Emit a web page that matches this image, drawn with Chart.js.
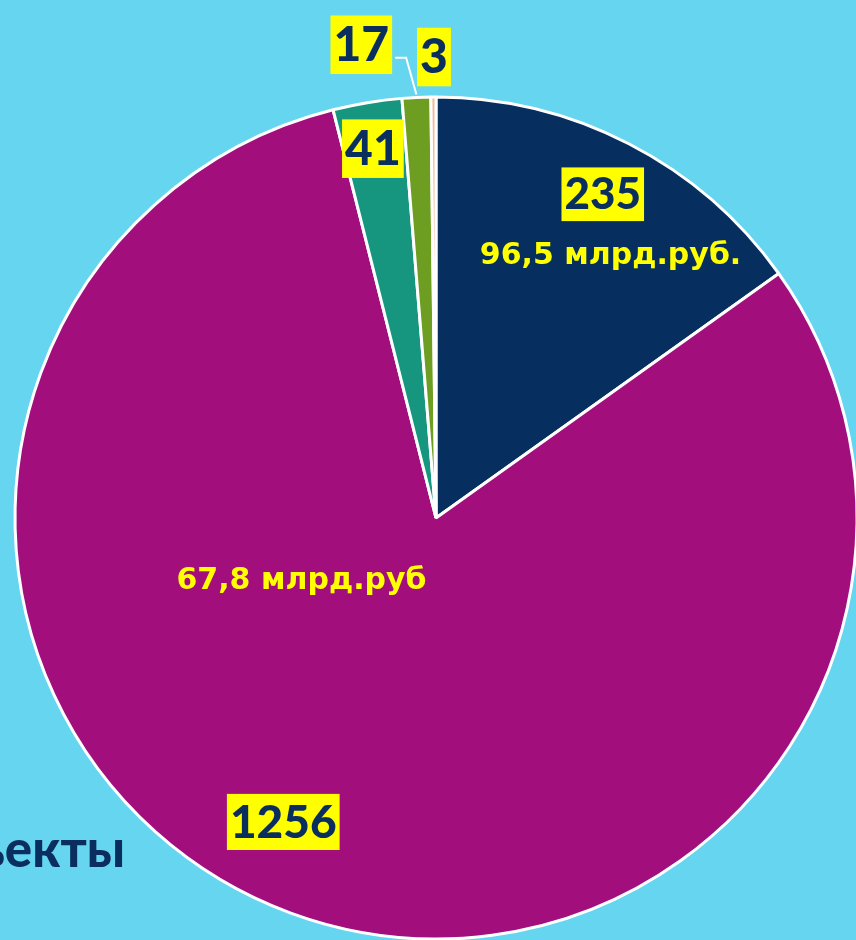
<!DOCTYPE html>
<html>
<head>
<meta charset="utf-8">
<script src="https://cdn.jsdelivr.net/npm/chart.js@4/dist/chart.umd.min.js"></script>
<style>
  html, body { margin:0; padding:0; width:856px; height:940px; overflow:hidden; background:#66d5ef; }
  #wrap { position:absolute; left:0; top:0; width:872px; height:1036px; }
  #side { position:absolute; right:731px; top:822px; font-family:Lato, "DejaVu Sans", sans-serif; font-weight:900; font-size:51px; color:#0a2f5e; white-space:nowrap; line-height:1; }
</style>
</head>
<body>
<div id="side">Объекты</div>
<div id="wrap"><canvas id="c" width="872" height="1036"></canvas></div>
<script>
// ---- data ----
const categories = ["A", "B", "C", "D", "E"];
const counts = [235, 1256, 41, 17, 3];
const amounts = ["96,5 млрд.руб.", "67,8 млрд.руб", "", "", ""];
const sliceColors = ["#062f5f", "#a30e7d", "#16967e", "#6d9e22", "#f4b89a"];

// label layout: [slice index, text, angle offset from slice middle (deg), radius fraction, style]
const labelLayout = [
  { i:0, text:String(counts[0]), da:0, rf:0.865, size:44, box:true },
  { i:0, text:amounts[0], da:6.3, rf:0.75, size:30, box:false, font:'"DejaVu Sans", sans-serif', weight:'bold' },
  { i:1, text:String(counts[1]), da:6.5, rf:0.808, size:46, box:true },
  { i:1, text:amounts[1], da:45, rf:0.352, size:30, box:false, font:'"DejaVu Sans", sans-serif', weight:'bold' },
  { i:2, text:String(counts[2]), da:-0.3, rf:0.89, size:48, box:true },
  { i:3, text:String(counts[3]), da:-6.3, rf:1.138, size:48, box:true, leader:true },
  { i:4, text:String(counts[4]), da:0.1, rf:1.095, size:48, box:true }
];

const FONT = 'Lato, "DejaVu Sans", sans-serif';

const labelPlugin = {
  id: 'labels',
  afterDatasetsDraw(chart) {
    const ctx = chart.ctx;
    const meta = chart.getDatasetMeta(0);
    ctx.save();
    labelLayout.forEach(L => {
      const arc = meta.data[L.i];
      const mid = (arc.startAngle + arc.endAngle) / 2;
      const a = mid + L.da * Math.PI / 180;
      const r = arc.outerRadius * L.rf;
      const x = arc.x + Math.cos(a) * r;
      const y = arc.y + Math.sin(a) * r;
      ctx.font = (L.weight || '900') + ' ' + L.size + 'px ' + (L.font || FONT);
      ctx.textAlign = 'center';
      ctx.textBaseline = 'middle';
      const w = ctx.measureText(L.text).width;
      if (L.leader) {
        const ex = arc.x + Math.cos(mid) * arc.outerRadius;
        const ey = arc.y + Math.sin(mid) * arc.outerRadius;
        const bx = x + w / 2 + 6;
        ctx.strokeStyle = '#ffffff';
        ctx.lineWidth = 2;
        ctx.beginPath();
        ctx.moveTo(ex, ey - 3);
        ctx.lineTo(bx + 11, y + 13);
        ctx.lineTo(bx, y + 13);
        ctx.stroke();
      }
      if (L.box) {
        const h = L.size * 1.22;
        ctx.fillStyle = '#ffff00';
        ctx.fillRect(x - w / 2 - 3, y - h / 2, w + 6, h);
        ctx.fillStyle = '#0a2f5e';
      } else {
        ctx.fillStyle = '#ffff00';
      }
      ctx.fillText(L.text, x, y + 1);
    });
    ctx.restore();
  }
};

new Chart(document.getElementById('c'), {
  type: 'pie',
  data: {
    labels: categories,
    datasets: [{
      data: counts,
      backgroundColor: sliceColors,
      borderColor: '#ffffff',
      borderWidth: 3,
      hoverOffset: 0
    }]
  },
  options: {
    responsive: false,
    animation: false,
    radius: 421,
    layout: { padding: 0 },
    plugins: { legend: { display: false }, tooltip: { enabled: false } }
  },
  plugins: [labelPlugin]
});
</script>
</body>
</html>
